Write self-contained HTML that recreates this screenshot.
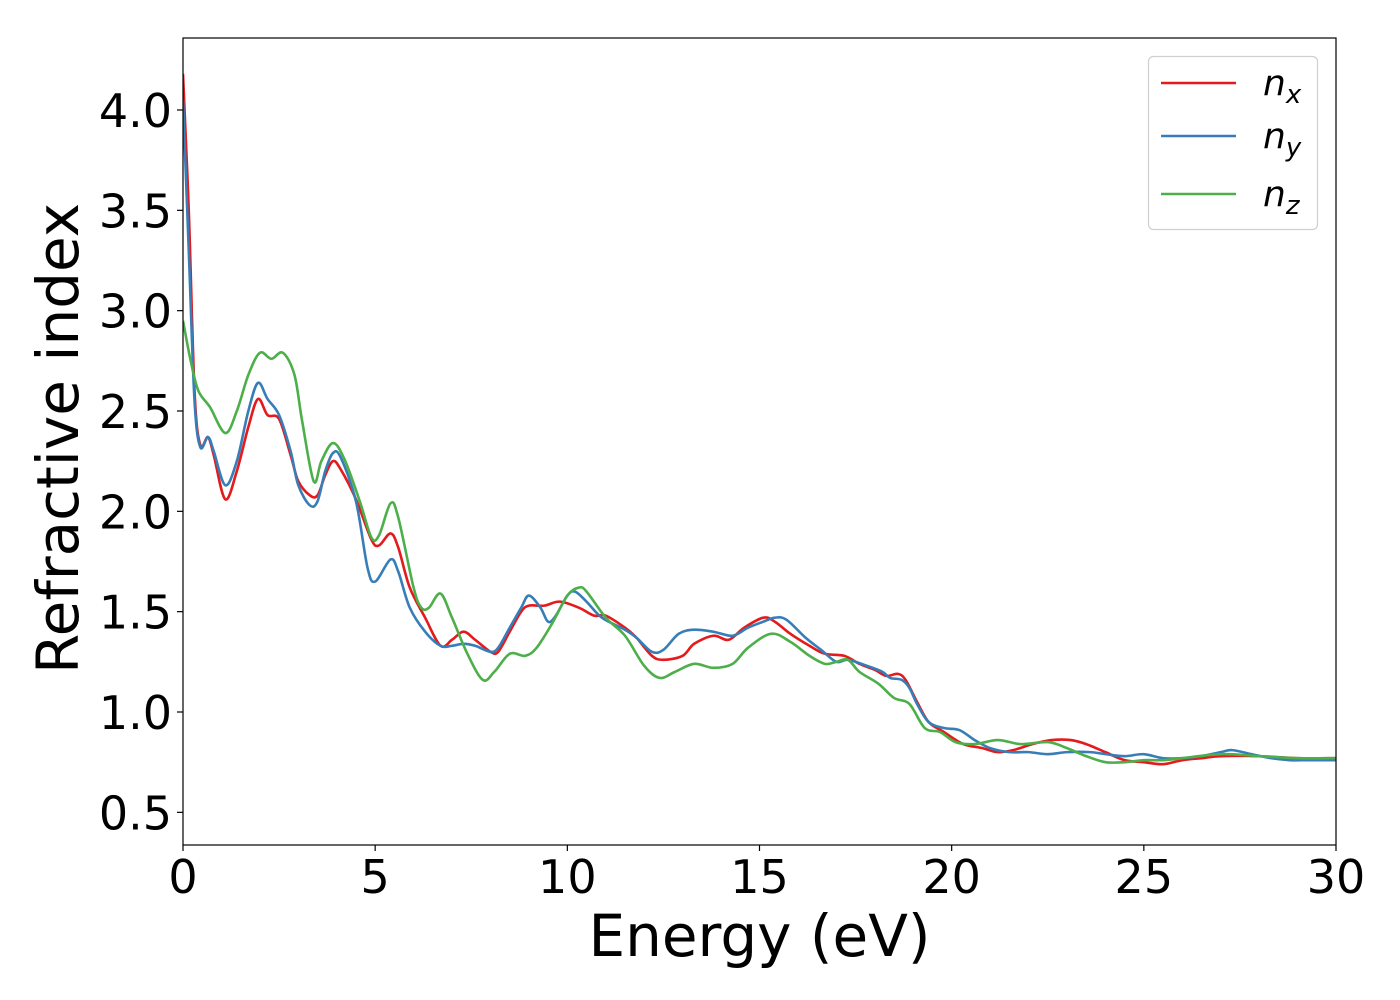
<!DOCTYPE html>
<html><head><meta charset="utf-8"><style>
html,body{margin:0;padding:0;background:#fff;}
svg{display:block;font-family:"DejaVu Sans","Liberation Sans",sans-serif;}
</style></head><body>
<svg id="chart" width="1400" height="1000" viewBox="0 0 1400 1000" xmlns="http://www.w3.org/2000/svg">
<rect x="0" y="0" width="1400" height="1000" fill="#fff"/>
<g id="series"></g>
<g id="axes"></g>
</svg>
<script>
const xTicks = [0,5,10,15,20,25,30];
const yTicks = [0.5,1.0,1.5,2.0,2.5,3.0,3.5,4.0];
const yTickLabels = ["0.5","1.0","1.5","2.0","2.5","3.0","3.5","4.0"];
const xTickLabels = ["0","5","10","15","20","25","30"];

const nxE = [0,0.15,0.3,0.45,0.65,0.8,1.1,1.4,1.7,1.95,2.2,2.5,2.8,3.0,3.3,3.5,3.7,3.9,4.1,4.5,4.9,5.1,5.4,5.6,5.9,6.3,6.7,7.0,7.3,7.6,8.0,8.2,8.5,8.8,9.0,9.4,9.8,10.3,10.7,11.0,11.5,11.8,12.2,12.5,13.0,13.3,13.8,14.2,14.6,15.1,15.4,15.8,16.3,16.7,17.2,17.6,18.0,18.3,18.6,18.8,19.1,19.4,19.8,20.3,20.8,21.2,21.6,22.1,22.6,23.1,23.5,24.0,24.5,25.0,25.5,26.0,26.5,27.0,28.0,29.0,30];
const nxV = [4.18,3.5,2.6,2.33,2.37,2.28,2.06,2.2,2.42,2.56,2.48,2.46,2.28,2.15,2.08,2.08,2.18,2.25,2.21,2.06,1.86,1.83,1.89,1.82,1.62,1.47,1.33,1.36,1.40,1.36,1.30,1.30,1.40,1.50,1.53,1.53,1.55,1.52,1.48,1.48,1.42,1.37,1.28,1.26,1.28,1.34,1.38,1.36,1.42,1.47,1.45,1.39,1.33,1.29,1.28,1.24,1.21,1.18,1.19,1.16,1.05,0.95,0.90,0.84,0.82,0.80,0.81,0.84,0.86,0.86,0.84,0.80,0.76,0.75,0.74,0.76,0.77,0.78,0.78,0.77,0.77];

const nyE = [0,0.15,0.3,0.45,0.65,0.8,1.1,1.4,1.7,1.95,2.2,2.5,2.8,3.0,3.3,3.5,3.7,3.9,4.1,4.5,4.8,5.0,5.4,5.6,5.9,6.3,6.7,7.0,7.3,7.6,8.0,8.2,8.5,8.8,9.0,9.3,9.5,9.7,10.0,10.2,10.5,10.9,11.5,11.8,12.2,12.5,12.9,13.3,13.8,14.3,14.7,15.1,15.4,15.7,16.2,16.6,17.0,17.3,17.8,18.2,18.4,18.7,18.9,19.1,19.4,19.8,20.2,20.6,21.0,21.5,22.0,22.5,23.0,23.6,24.0,24.5,25.0,25.5,26.0,26.5,27.0,27.3,27.8,28.3,28.8,29.3,30];
const nyV = [4.05,3.3,2.55,2.32,2.37,2.3,2.13,2.25,2.5,2.64,2.56,2.48,2.3,2.13,2.03,2.05,2.2,2.29,2.27,2.05,1.72,1.65,1.76,1.70,1.52,1.40,1.33,1.33,1.34,1.33,1.30,1.32,1.42,1.52,1.58,1.52,1.45,1.48,1.58,1.60,1.55,1.47,1.41,1.37,1.30,1.31,1.39,1.41,1.40,1.38,1.42,1.45,1.47,1.46,1.37,1.31,1.25,1.26,1.23,1.20,1.17,1.16,1.12,1.04,0.95,0.92,0.91,0.86,0.82,0.80,0.80,0.79,0.80,0.80,0.79,0.78,0.79,0.77,0.77,0.78,0.80,0.81,0.79,0.77,0.76,0.76,0.76];

const nzE = [0,0.2,0.4,0.7,1.1,1.4,1.7,2.0,2.3,2.6,2.9,3.1,3.4,3.6,3.9,4.2,4.6,4.9,5.1,5.4,5.6,6.0,6.2,6.4,6.7,7.0,7.4,7.8,8.1,8.5,8.9,9.2,9.6,10.0,10.3,10.5,11.0,11.5,12.0,12.4,12.8,13.3,13.8,14.3,14.7,15.3,15.8,16.3,16.7,17.0,17.3,17.6,18.1,18.5,18.9,19.3,19.7,20.1,20.6,21.2,21.8,22.5,23.0,23.5,24.0,24.5,25.0,25.5,26.0,27.0,28.0,29.0,30];
const nzV = [2.95,2.75,2.6,2.52,2.39,2.5,2.68,2.79,2.76,2.79,2.68,2.45,2.15,2.25,2.34,2.26,2.05,1.87,1.88,2.04,1.97,1.62,1.52,1.52,1.59,1.47,1.29,1.16,1.20,1.29,1.28,1.32,1.44,1.58,1.62,1.60,1.47,1.38,1.23,1.17,1.20,1.24,1.22,1.24,1.32,1.39,1.35,1.28,1.24,1.25,1.26,1.20,1.14,1.07,1.04,0.92,0.90,0.85,0.84,0.86,0.84,0.85,0.82,0.78,0.75,0.75,0.76,0.76,0.77,0.79,0.78,0.77,0.77];

const L=183,R=1336,T=38,B=845;
const xS = e => L + (e-0)/(30-0)*(R-L);
const yS = v => 712 - (v-1.0)*200.67;
const NS="http://www.w3.org/2000/svg";
const series=document.getElementById('series');
const axes=document.getElementById('axes');

function smoothPath(E,V){
  const p=E.map((e,i)=>[xS(e),yS(V[i])]);
  let d=`M${p[0][0].toFixed(2)},${p[0][1].toFixed(2)}`;
  for(let i=0;i<p.length-1;i++){
    const p0=p[Math.max(0,i-1)],p1=p[i],p2=p[i+1],p3=p[Math.min(p.length-1,i+2)];
    const c1=[p1[0]+(p2[0]-p0[0])/6,p1[1]+(p2[1]-p0[1])/6];
    const c2=[p2[0]-(p3[0]-p1[0])/6,p2[1]-(p3[1]-p1[1])/6];
    d+=` C${c1[0].toFixed(2)},${c1[1].toFixed(2)} ${c2[0].toFixed(2)},${c2[1].toFixed(2)} ${p2[0].toFixed(2)},${p2[1].toFixed(2)}`;
  }
  return d;
}
const clip=document.createElementNS(NS,'clipPath');clip.setAttribute('id','pc');
const cr=document.createElementNS(NS,'rect');cr.setAttribute('x',L);cr.setAttribute('y',T);cr.setAttribute('width',R-L);cr.setAttribute('height',B-T);
clip.appendChild(cr);document.getElementById('chart').appendChild(clip);
series.setAttribute('clip-path','url(#pc)');

function addLine(E,V,color,name){
  const path=document.createElementNS(NS,'path');
  path.setAttribute('d',smoothPath(E,V));
  path.setAttribute('fill','none');path.setAttribute('stroke',color);path.setAttribute('stroke-width','2.6');
  
  
  series.appendChild(path);
}
addLine(nxE,nxV,'#e41a1c','nx-line');
addLine(nyE,nyV,'#377eb8','ny-line');
addLine(nzE,nzV,'#4daf4a','nz-line');

function el(tag,attrs,text){const e=document.createElementNS(NS,tag);for(const k in attrs)e.setAttribute(k,attrs[k]);if(text!==undefined)e.textContent=text;axes.appendChild(e);return e;}
const frame=el('rect',{x:L,y:T,width:R-L,height:B-T,fill:'none',stroke:'#000','stroke-width':1.2});


xTicks.forEach((t,i)=>{
  const x=xS(t);
  const tk=el('line',{x1:x,y1:B,x2:x,y2:B+6,stroke:'#000','stroke-width':1.2});
  
  
  const lb=el('text',{x:x,y:B+48,'font-size':46,'text-anchor':'middle',fill:'#000'},xTickLabels[i]);
  
  
});
yTicks.forEach((t,i)=>{
  const y=yS(t);
  const tk=el('line',{x1:L-6,y1:y,x2:L,y2:y,stroke:'#000','stroke-width':1.2});
  
  
  const lb=el('text',{x:L-11,y:y+17,'font-size':46,'text-anchor':'end',fill:'#000'},yTickLabels[i]);
  
  
});
const xt=el('text',{x:(L+R)/2,y:956,'font-size':58,'text-anchor':'middle',fill:'#000'},'Energy (eV)');


const yt=el('text',{x:0,y:0,'font-size':58,'text-anchor':'middle',fill:'#000',transform:`translate(78,${(T+B)/2-3}) rotate(-90)`},'Refractive index');



const lg=el('rect',{x:1148.5,y:56.5,width:169,height:173,rx:5,fill:'#fff','fill-opacity':0.8,stroke:'#d0d0d0','stroke-width':1.2});


const legendItems=[['#e41a1c','x',83],['#377eb8','y',136],['#4daf4a','z',194]];
legendItems.forEach(([c,s,y])=>{
  const ln=el('line',{x1:1161,y1:y,x2:1236,y2:y,stroke:c,'stroke-width':2.6});
  
  
  const tx=el('text',{x:1263,y:y+12,'font-size':36,'font-style':'italic',fill:'#000'});
  
  
  const t1=document.createElementNS(NS,'tspan');t1.textContent='n';tx.appendChild(t1);
  const t2=document.createElementNS(NS,'tspan');t2.setAttribute('font-size','26');t2.setAttribute('dy','8');t2.textContent=s;tx.appendChild(t2);
});
</script>
</body></html>
